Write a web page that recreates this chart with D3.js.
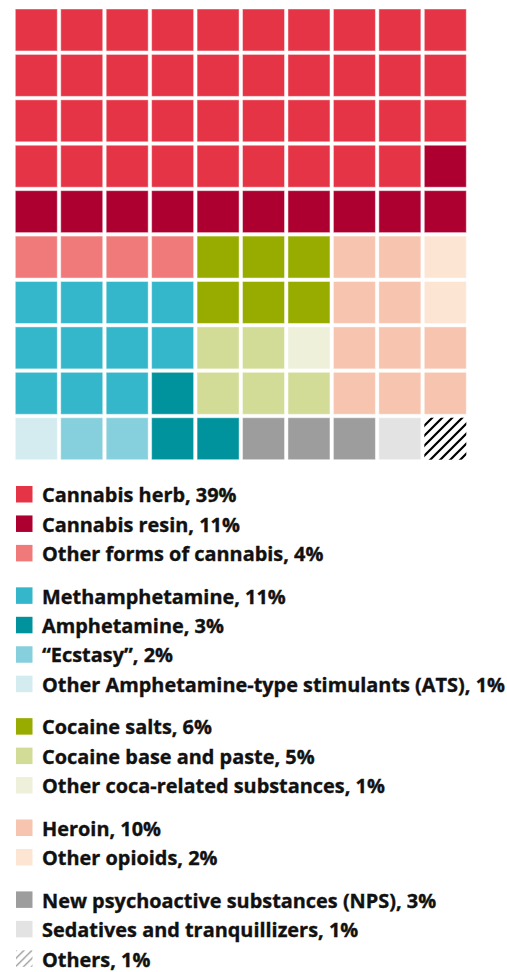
<!DOCTYPE html>
<html>
<head>
<meta charset="utf-8">
<script src="https://cdn.jsdelivr.net/npm/d3@7"></script>
<style>
  html, body { margin: 0; padding: 0; background: #ffffff; }
  svg { display: block; }
</style>
</head>
<body>
<svg id="chart" width="507" height="972"></svg>
<script>
// Drug categories, their share of the total (%) and the legend group they belong to
const keys   = ["herb", "resin", "oCan", "meth", "amph", "ecst", "oATS", "cSalt", "cBase", "oCoca", "heroin", "oOpi", "nps", "sed", "other"];
const names  = ["Cannabis herb", "Cannabis resin", "Other forms of cannabis",
                "Methamphetamine", "Amphetamine", "\u201CEcstasy\u201D", "Other Amphetamine-type stimulants (ATS)",
                "Cocaine salts", "Cocaine base and paste", "Other coca-related substances",
                "Heroin", "Other opioids",
                "New psychoactive substances (NPS)", "Sedatives and tranquillizers", "Others"];
const shares = [39, 11, 4, 11, 3, 2, 1, 6, 5, 1, 10, 2, 3, 1, 1];
const groups = [0, 0, 0, 1, 1, 1, 1, 2, 2, 2, 3, 3, 4, 4, 4];
const colors = ["#e53446", "#ae0030", "#f07a7a",
                "#34b6cb", "#00939e", "#86cfdc", "#d4ecf0",
                "#98ac00", "#d3dc96", "#eef0da",
                "#f7c5af", "#fde5d3",
                "#9d9d9e", "#e2e3e2", "hatch"];

// 10 x 10 waffle layout: each cell holds the category that occupies it
const grid = [
  ["herb","herb","herb","herb","herb","herb","herb","herb","herb","herb"],
  ["herb","herb","herb","herb","herb","herb","herb","herb","herb","herb"],
  ["herb","herb","herb","herb","herb","herb","herb","herb","herb","herb"],
  ["herb","herb","herb","herb","herb","herb","herb","herb","herb","resin"],
  ["resin","resin","resin","resin","resin","resin","resin","resin","resin","resin"],
  ["oCan","oCan","oCan","oCan","cSalt","cSalt","cSalt","heroin","heroin","oOpi"],
  ["meth","meth","meth","meth","cSalt","cSalt","cSalt","heroin","heroin","oOpi"],
  ["meth","meth","meth","meth","cBase","cBase","oCoca","heroin","heroin","heroin"],
  ["meth","meth","meth","amph","cBase","cBase","cBase","heroin","heroin","heroin"],
  ["oATS","ecst","ecst","amph","amph","nps","nps","nps","sed","other"]
];

const svg = d3.select("#chart");
const defs = svg.append("defs");

// Diagonal hatching used for "Others"
function hatch(id, size, stroke, width) {
  const p = defs.append("pattern")
    .attr("id", id)
    .attr("patternUnits", "userSpaceOnUse")
    .attr("width", size).attr("height", size);
  p.append("rect").attr("width", size).attr("height", size).attr("fill", "#ffffff");
  p.append("path")
    .attr("d", `M0,${size} L${size},0 M${-size/4},${size/4} L${size/4},${-size/4} M${size*3/4},${size*5/4} L${size*5/4},${size*3/4}`)
    .attr("stroke", stroke).attr("stroke-width", width).attr("stroke-linecap", "square");
}
hatch("hatchCell", 10, "#000000", 2.2);
hatch("hatchKey", 8, "#9a9a9a", 1.3);

const colorOf = d3.scaleOrdinal().domain(keys).range(colors);
const fillFor = (k, big) => colorOf(k) === "hatch" ? (big ? "url(#hatchCell)" : "url(#hatchKey)") : colorOf(k);

// Waffle grid
const x = d3.scaleBand().domain(d3.range(10)).range([15.3, 466.3]).paddingInner(0.076);
const y = d3.scaleBand().domain(d3.range(10)).range([9, 459.7]).paddingInner(0.076);

const cells = grid.flatMap((row, r) => row.map((k, c) => ({ r, c, k })));

svg.append("g").selectAll("rect")
  .data(cells)
  .join("rect")
  .attr("x", d => x(d.c))
  .attr("y", d => y(d.r))
  .attr("width", x.bandwidth())
  .attr("height", y.bandwidth())
  .attr("fill", d => fillFor(d.k, true))
  .attr("stroke", d => colorOf(d.k) === "hatch" ? "none" : "rgba(255,255,255,0.45)")
  .attr("stroke-width", 1);

// Legend
const legendTop = 486, rowStep = 29.45, groupGap = 13.0, swatch = 16.5;
const items = keys.map((k, i) => ({
  k, i,
  label: `${names[i]}, ${shares[i]}%`,
  top: legendTop + i * rowStep + groups[i] * groupGap
}));

const legend = svg.append("g")
  .selectAll("g")
  .data(items)
  .join("g")
  .attr("transform", d => `translate(16,${d.top})`);

legend.append("rect")
  .attr("width", swatch)
  .attr("height", swatch)
  .attr("fill", d => fillFor(d.k, false));

legend.append("text")
  .attr("x", 26)
  .attr("y", 16.2)
  .attr("fill", "#111111")
  .attr("stroke", "#111111")
  .attr("stroke-width", 0.35)
  .style("font-family", "'Open Sans', Lato, sans-serif")
  .style("font-weight", 700)
  .style("font-size", "19.9px")
  .text(d => d.label);
</script>
</body>
</html>
